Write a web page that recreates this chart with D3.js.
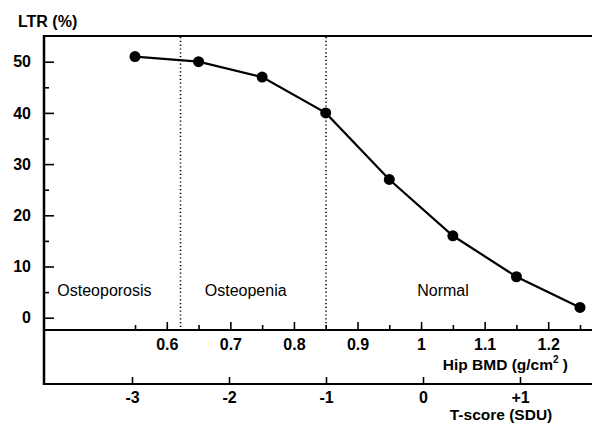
<!DOCTYPE html>
<html>
<head>
<meta charset="utf-8">
<script src="https://cdn.jsdelivr.net/npm/d3@7"></script>
<style>
  body { margin: 0; background: #fff; }
  svg text { font-family: "Liberation Sans", Arial, Helvetica, sans-serif; fill: #000; }
</style>
</head>
<body>
<script>
// data
var bmd = [0.55, 0.65, 0.75, 0.85, 0.95, 1.05, 1.15, 1.25];
var ltr = [51, 50, 47, 40, 27, 16, 8, 2];
var bmdTicks = [0.6, 0.7, 0.8, 0.9, 1, 1.1, 1.2];
var bmdMinor = [0.55, 0.65, 0.75, 0.85, 0.95, 1.05, 1.15, 1.25];
var tTicks = [-3, -2, -1, 0, 1];
var tLabels = ["-3", "-2", "-1", "0", "+1"];
var yTicks = [0, 10, 20, 30, 40, 50];
var yMinor = [5, 15, 25, 35, 45];
var cutoffs = [-2.5, -1]; // T-score thresholds
var zones = [
  { name: "Osteoporosis", t: -3.77 },
  { name: "Osteopenia", t: -2.25 },
  { name: "Normal", t: -0.06 }
];

var width = 592, height = 423;
var left = 44, frameTop = 36, axisY = 330, axis2Y = 384;

var svg = d3.select("body").append("svg")
  .attr("width", width)
  .attr("height", height);

// scales
var x = d3.scaleLinear().domain([0.55, 1.25]).range([135, 580]);
var t = d3.scaleLinear().domain([-3, 1]).range([132, 520]);
var y = d3.scaleLinear().domain([0, 50]).range([317.7, 61.7]);

// frame
svg.append("line").attr("x1", left).attr("x2", width).attr("y1", frameTop).attr("y2", frameTop)
  .attr("stroke", "#000").attr("stroke-width", 2.2);
svg.append("line").attr("x1", left).attr("x2", left).attr("y1", frameTop - 1).attr("y2", axis2Y + 1)
  .attr("stroke", "#000").attr("stroke-width", 2.5);
svg.append("line").attr("x1", left).attr("x2", width).attr("y1", axisY).attr("y2", axisY)
  .attr("stroke", "#000").attr("stroke-width", 2);
svg.append("line").attr("x1", left).attr("x2", width).attr("y1", axis2Y).attr("y2", axis2Y)
  .attr("stroke", "#000").attr("stroke-width", 2.2);

// y axis (ticks point inward)
svg.append("g")
  .attr("transform", "translate(" + left + ",0)")
  .call(d3.axisLeft(y).tickValues(yTicks).tickSizeInner(-10).tickSizeOuter(0).tickPadding(13));
svg.append("g")
  .attr("transform", "translate(" + left + ",0)")
  .call(d3.axisLeft(y).tickValues(yMinor).tickSizeInner(-5).tickSizeOuter(0).tickFormat(""));

// BMD axis
svg.append("g")
  .attr("transform", "translate(0," + axisY + ")")
  .call(d3.axisBottom(x).tickValues(bmdTicks).tickSizeInner(-8).tickSizeOuter(0).tickPadding(9)
    .tickFormat(d3.format("")));
svg.append("g")
  .attr("transform", "translate(0," + axisY + ")")
  .call(d3.axisBottom(x).tickValues(bmdMinor).tickSizeInner(-5).tickSizeOuter(0).tickFormat(""));

// T-score axis
svg.append("g")
  .attr("transform", "translate(0," + axis2Y + ")")
  .call(d3.axisBottom(t).tickValues(tTicks).tickSizeInner(-7).tickSizeOuter(0).tickPadding(8)
    .tickFormat(function(d, i) { return tLabels[i]; }));

svg.selectAll(".domain").remove();
svg.selectAll(".tick line").attr("stroke", "#000").attr("stroke-width", 1.6);
svg.selectAll(".tick text")
  .attr("font-size", 16).attr("font-weight", "bold")
  .attr("font-family", "'Liberation Sans', Arial, sans-serif");

// dotted cutoffs
svg.selectAll(".cut")
  .data(cutoffs).enter()
  .append("line")
  .attr("class", "cut")
  .attr("x1", function(d) { return t(d); })
  .attr("x2", function(d) { return t(d); })
  .attr("y1", frameTop + 1)
  .attr("y2", axisY - 1)
  .attr("stroke", "#000")
  .attr("stroke-width", 1.6)
  .attr("stroke-dasharray", "1.2,2.6");

// zone labels
svg.selectAll(".zone")
  .data(zones).enter()
  .append("text")
  .attr("class", "zone")
  .attr("x", function(d) { return t(d.t); })
  .attr("y", 296)
  .attr("font-size", 16)
  .text(function(d) { return d.name; });

// line + points
var pts = bmd.map(function(d, i) { return [d, ltr[i]]; });
svg.append("path")
  .datum(pts)
  .attr("fill", "none")
  .attr("stroke", "#000")
  .attr("stroke-width", 2.2)
  .attr("d", d3.line().x(function(d) { return x(d[0]); }).y(function(d) { return y(d[1]); }));
svg.selectAll(".pt")
  .data(pts).enter()
  .append("circle")
  .attr("class", "pt")
  .attr("cx", function(d) { return x(d[0]); })
  .attr("cy", function(d) { return y(d[1]); })
  .attr("r", 5.5)
  .attr("fill", "#000");

// titles
svg.append("text")
  .attr("x", 18).attr("y", 27)
  .attr("font-size", 16).attr("font-weight", "bold")
  .text("LTR (%)");

var bt = svg.append("text")
  .attr("x", 568).attr("y", 370)
  .attr("text-anchor", "end")
  .attr("font-size", 15.5).attr("font-weight", "bold");
bt.append("tspan").text("Hip BMD (g/cm");
bt.append("tspan").attr("font-size", 10).attr("dy", -7).text("2");
bt.append("tspan").attr("dy", 7).text(" )");

svg.append("text")
  .attr("x", 501).attr("y", 420)
  .attr("text-anchor", "middle")
  .attr("font-size", 15.5).attr("font-weight", "bold")
  .text("T-score (SDU)");
</script>
</body>
</html>
